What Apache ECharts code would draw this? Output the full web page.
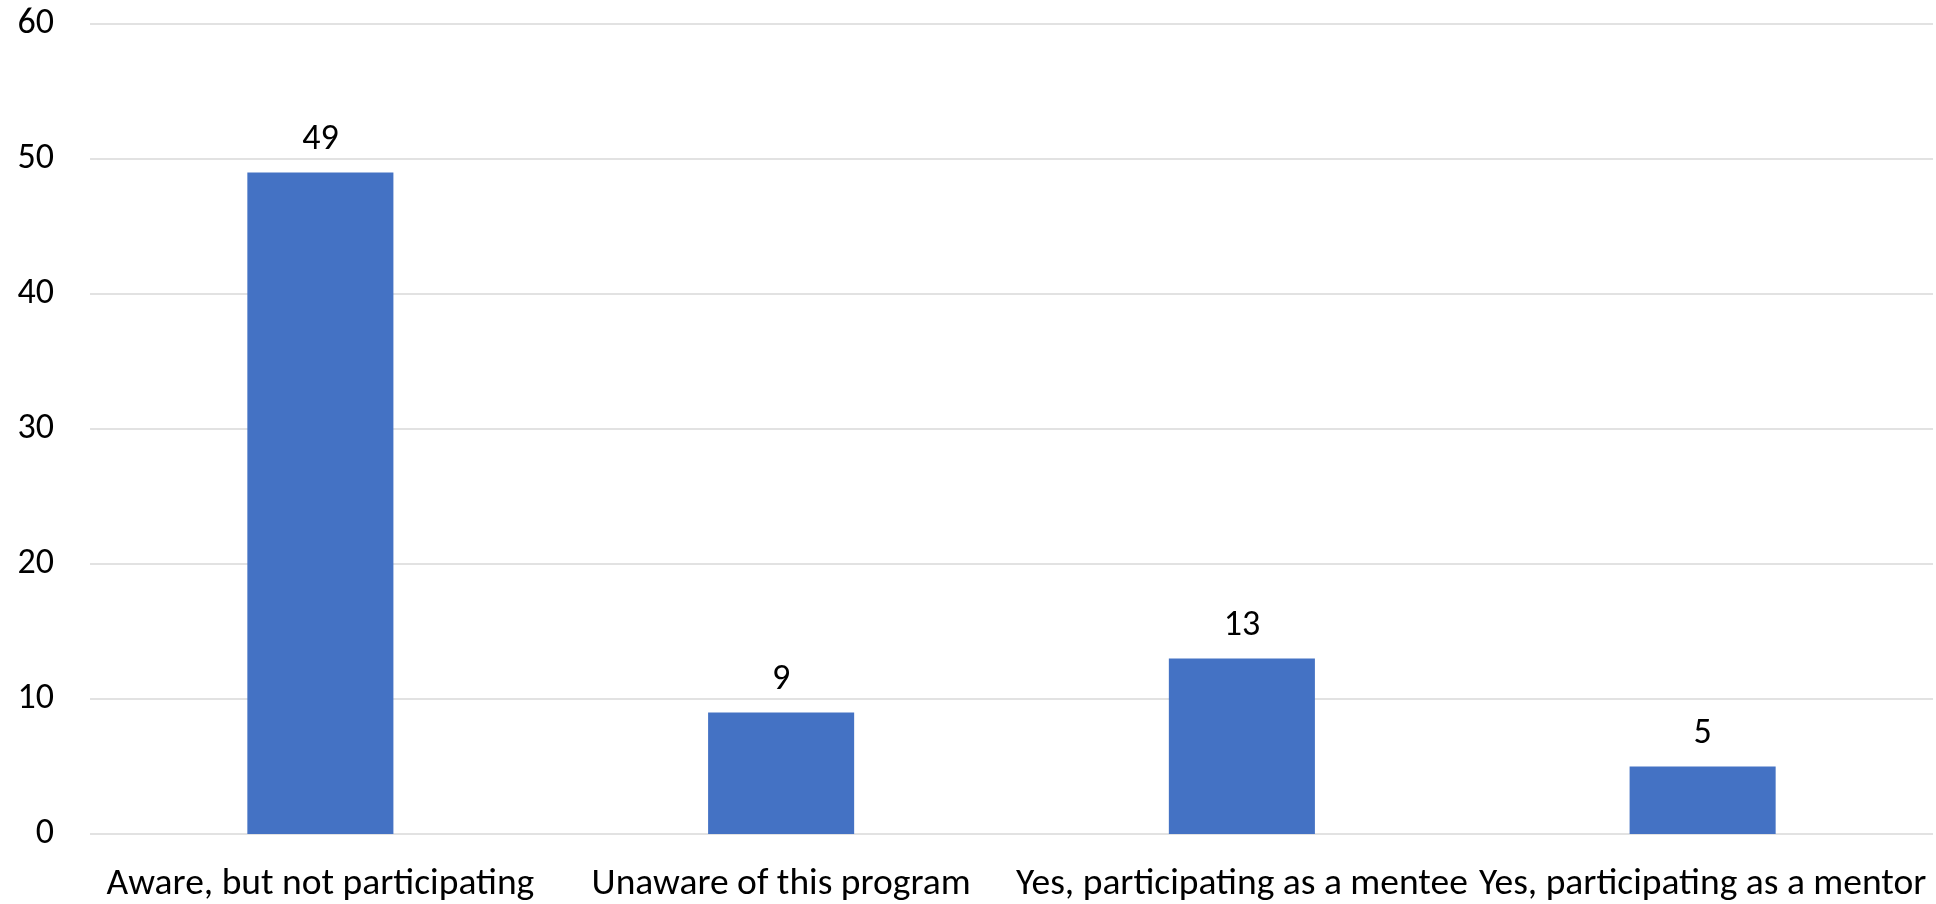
<!DOCTYPE html>
<html>
<head>
<meta charset="utf-8">
<script src="https://cdn.jsdelivr.net/npm/echarts@6/dist/echarts.min.js"></script>
<style>
html,body{margin:0;padding:0;background:#fff;}
#chart{width:1936px;height:904px;}
</style>
</head>
<body>
<div id="chart"></div>
<script>
const categories = ["Aware, but not participating", "Unaware of this program", "Yes, participating as a mentee", "Yes, participating as a mentor"];
const values = [49, 9, 13, 5];
const yTicks = [0, 10, 20, 30, 40, 50, 60];

const FONT = "Carlito, Calibri, Lato, sans-serif";
const chart = echarts.init(document.getElementById('chart'), null, {renderer: 'canvas'});
chart.setOption({
  animation: false,
  backgroundColor: '#ffffff',
  grid: {left: 90, right: 3, top: 24, bottom: 68, containLabel: false},
  xAxis: {
    type: 'category',
    data: categories,
    axisLine: {show: false},
    axisTick: {show: false},
    axisLabel: {color: '#000', fontFamily: FONT, fontSize: 37.5, margin: 32, interval: 0}
  },
  yAxis: {
    type: 'value',
    min: yTicks[0],
    max: yTicks[yTicks.length - 1],
    interval: 10,
    axisLine: {show: false},
    axisTick: {show: false},
    axisLabel: {color: '#000', fontFamily: FONT, fontSize: 36, margin: 36},
    splitLine: {lineStyle: {color: '#d9d9d9', width: 1.5}}
  },
  series: [{
    type: 'bar',
    data: values,
    barWidth: '31.7%',
    itemStyle: {color: '#4472c4'},
    label: {show: true, position: 'top', distance: 15, color: '#000', fontFamily: FONT, fontSize: 36}
  }]
});
</script>
</body>
</html>
